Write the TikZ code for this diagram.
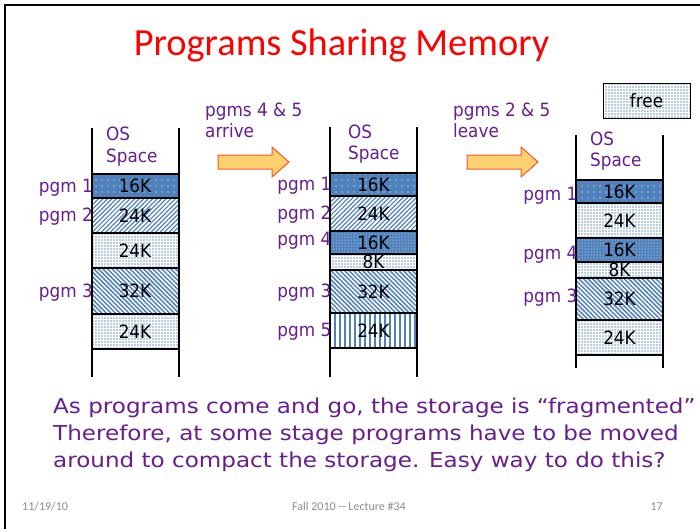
\documentclass[tikz,border=0pt]{standalone}
\usepackage{fontspec}
\usetikzlibrary{patterns.meta}
\newfontfamily\labfont[FakeStretch=0.92]{DejaVu Sans}
\newfontfamily\bodyfont[FakeStretch=1.125]{DejaVu Sans}
\newfontfamily\titlefont{Carlito}
\definecolor{lbl}{RGB}{104,30,140}
\definecolor{mblue}{RGB}{79,129,189}
\definecolor{arrowfill}{RGB}{255,208,112}
\definecolor{arrowedge}{RGB}{238,90,50}
\definecolor{footgray}{RGB}{140,140,140}
\newcommand\labsize{\labfont\fontsize{18.3}{22}\selectfont}
% one memory block: name, left x, top y, bottom y, fill style, size text
\newcommand\memblk[6]{%
  \draw[blockedge,#5] (#2,#3) rectangle (#2+87,#4);
  \node[sizetext] (#1) at ({#2+43.5},{(#3+#4)/2+6.6}) {#6};
}
\tikzset{
  blockedge/.style={draw=black,line width=1.6pt},
  colline/.style={draw=black,line width=2pt},
  sizetext/.style={anchor=base,inner sep=0pt,font=\labsize,text=black},
  pgmlabel/.style={anchor=base east,inner sep=0pt,font=\labsize,text=lbl},
  plaintext/.style={anchor=base west,inner sep=0pt,font=\labsize,text=lbl},
  usedA/.style={preaction={fill=mblue},pattern={Dots[distance=6pt,radius=0.55pt]},pattern color=white},
  usedB/.style={preaction={fill=mblue},pattern={Dots[distance=3pt,radius=0.5pt]},pattern color=white},
  freemem/.style={preaction={fill=white},pattern={Dots[distance=3pt,radius=0.8pt]},pattern color=mblue!80},
  upstripe/.style={preaction={fill=white},pattern={Lines[angle=45,distance=3.2pt,line width=1.2pt]},pattern color=mblue},
  downstripe/.style={preaction={fill=white},pattern={Lines[angle=-45,distance=3.2pt,line width=1.5pt]},pattern color=mblue},
  vstripe/.style={preaction={fill=white},pattern={Lines[angle=90,distance=5pt,line width=2.8pt]},pattern color=mblue},
  blockarrow/.style={fill=arrowfill,draw=arrowedge,line width=1pt},
}
\begin{document}
\begin{tikzpicture}[x=1pt,y=-1pt]
\useasboundingbox (0,0) rectangle (700,528);
\fill[white] (0,0) rectangle (700,528);

% slide frame
\draw[line width=1.6pt] (5,530) -- (5,5) -- (702,5);

% title
\node[anchor=base,inner sep=0pt,font=\titlefont\fontsize{38.4}{44}\selectfont,text=red]
  (title) at (341.5,55) {Programs Sharing Memory};

% legend
\draw[line width=0.8pt,freemem] (603,83) rectangle (690,118);
\node[anchor=base,inner sep=0pt,font=\labsize,text=black] (legend) at (646.5,107.5) {free};

% ---- first memory map ----
\memblk{a1}{91.5}{174}{198}{usedA}{16K}
\memblk{a2}{91.5}{198}{233}{upstripe}{24K}
\memblk{a3}{91.5}{233}{268}{freemem}{24K}
\memblk{a4}{91.5}{268}{314}{downstripe}{32K}
\memblk{a5}{91.5}{314}{349}{freemem}{24K}
\draw[colline] (91.5,128) -- (91.5,377);
\draw[colline] (178.5,128) -- (178.5,377);
\node[plaintext] (aos) at (106,140.7) {OS};
\node[plaintext] (asp) at (106,162.7) {Space};
\node[pgmlabel] (ap1) at (93,192.6) {pgm 1};
\node[pgmlabel] (ap2) at (93,221.6) {pgm 2};
\node[pgmlabel] (ap3) at (93,297.6) {pgm 3};

% ---- second memory map ----
\memblk{b1}{330}{173}{196}{usedA}{16K}
\memblk{b2}{330}{196}{231}{upstripe}{24K}
\memblk{b3}{330}{231}{254}{usedB}{16K}
\memblk{b4}{330}{254}{270}{freemem}{8K}
\memblk{b5}{330}{270}{313}{downstripe}{32K}
\memblk{b6}{330}{313}{348}{vstripe}{24K}
\draw[colline] (330,127) -- (330,377);
\draw[colline] (417,127) -- (417,377);
\node[plaintext] (bos) at (348,138.3) {OS};
\node[plaintext] (bsp) at (348,159.3) {Space};
\node[pgmlabel] (bp1) at (331.5,190.6) {pgm 1};
\node[pgmlabel] (bp2) at (331.5,219.6) {pgm 2};
\node[pgmlabel] (bp4) at (331.5,245.4) {pgm 4};
\node[pgmlabel] (bp3) at (331.5,297.6) {pgm 3};
\node[pgmlabel] (bp5) at (331.5,336.6) {pgm 5};

% ---- third memory map ----
\memblk{c1}{576}{180}{203}{usedA}{16K}
\memblk{c2}{576}{203}{238}{freemem}{24K}
\memblk{c3}{576}{238}{262}{usedB}{16K}
\memblk{c4}{576}{262}{278}{freemem}{8K}
\memblk{c5}{576}{278}{320}{downstripe}{32K}
\memblk{c6}{576}{320}{355}{freemem}{24K}
\draw[colline] (576,135) -- (576,368);
\draw[colline] (663,135) -- (663,368);
\node[plaintext] (cos) at (590,145) {OS};
\node[plaintext] (csp) at (590,166.7) {Space};
\node[pgmlabel] (cp1) at (577.5,200.6) {pgm 1};
\node[pgmlabel] (cp4) at (577.5,259) {pgm 4};
\node[pgmlabel] (cp3) at (577.5,302.6) {pgm 3};

% transitions
\node[plaintext] (t1a) at (205,116.7) {pgms 4 \& 5};
\node[plaintext] (t1b) at (205,137) {arrive};
\node[plaintext] (t2a) at (453,116.7) {pgms 2 \& 5};
\node[plaintext] (t2b) at (453,137) {leave};
\draw[blockarrow] (218,155) -- (272,155) -- (272,147) -- (289,162) -- (272,177) -- (272,169) -- (218,169) -- cycle;
\draw[blockarrow] (467,155) -- (521,155) -- (521,147) -- (538,162) -- (521,177) -- (521,169) -- (467,169) -- cycle;

% closing remark
\begin{scope}[every node/.style={anchor=base west,inner sep=0pt,text=lbl,
    font=\bodyfont\fontsize{20.5}{24}\selectfont}]
  \node (r1) at (53,413) {As programs come and go, the storage is “fragmented”};
  \node (r2) at (53,440) {Therefore, at some stage programs have to be moved};
  \node (r3) at (53,467) {around to compact the storage. Easy way to do this?};
\end{scope}

% footer
\begin{scope}[every node/.style={anchor=base,inner sep=0pt,text=footgray,
    font=\titlefont\fontsize{12}{14}\selectfont}]
  \node[anchor=base west] (fdate) at (22,510) {11/19/10};
  \node (fmid) at (349,510) {Fall 2010 -{}- Lecture \#34};
  \node[anchor=base east] (fnum) at (663,510) {17};
\end{scope}
\end{tikzpicture}
\end{document}
